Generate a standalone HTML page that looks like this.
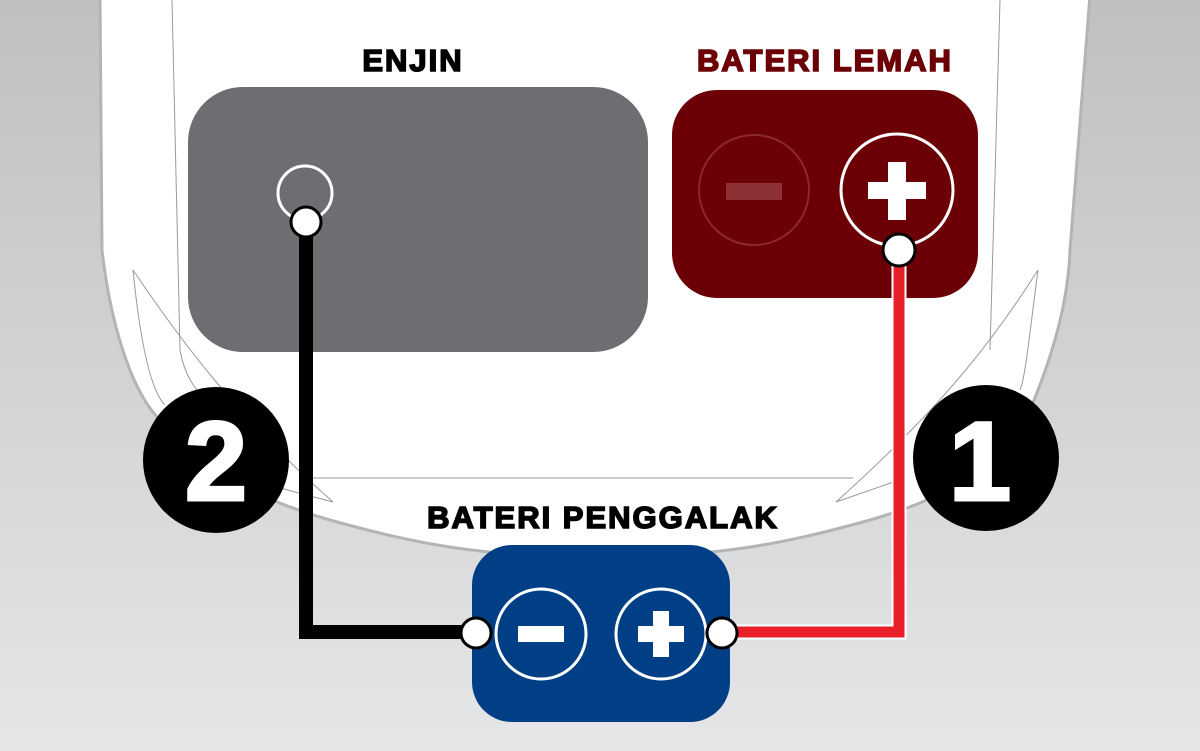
<!DOCTYPE html>
<html><head><style>html,body{margin:0;padding:0}svg{display:block}</style></head><body>
<svg width="1200" height="751" viewBox="0 0 1200 751" xmlns="http://www.w3.org/2000/svg">
<defs><linearGradient id="bg" x1="0" y1="0" x2="0" y2="1"><stop offset="0" stop-color="#bfc0c2"/><stop offset="1" stop-color="#e5e6e8"/></linearGradient></defs>
<rect width="1200" height="751" fill="url(#bg)"/>
<path d="M100,-5 L102,250 C110,320 130,390 160,420 C200,470 260,500 330,520 C420,545 480,556 600,558 C720,556 780,545 870,520 C940,500 1000,470 1030,410 C1055,350 1068,300 1070,250 L1090,-5 Z" fill="#fff" stroke="#b3b4b6" stroke-width="3"/>
<g fill="none" stroke="#999" stroke-width="1">
<path d="M172,0 L180,350 C185,380 200,400 230,415"/>
<path d="M133,270 C140,340 150,390 165,405"/>
<path d="M133,270 C180,340 240,420 333,502 L280,488"/>
<path d="M313,478 L853,478"/>
<path d="M1000,0 L990,350"/>
<path d="M1038,270 C1000,330 950,400 836,502 L905,478"/>
<path d="M1038,270 C1030,330 1025,380 1020,390"/>
</g>
<rect x="188" y="87" width="460" height="265" rx="55" fill="#6d6e72"/>
<circle cx="305" cy="193" r="27" fill="none" stroke="#fff" stroke-width="3"/>
<rect x="672" y="90" width="306" height="208" rx="45" fill="#6b0006"/>
<circle cx="754" cy="190" r="55" fill="none" stroke="#8a2a2e" stroke-width="2"/>
<rect x="726" y="183" width="56" height="17" fill="#8c3236"/>
<circle cx="897" cy="190" r="56" fill="none" stroke="#fff" stroke-width="3"/>
<rect x="868" y="182" width="58" height="17" fill="#fff"/><rect x="888" y="162" width="18" height="58" fill="#fff"/>
<g font-family="Liberation Sans, sans-serif" font-weight="bold" font-size="31" text-anchor="middle" stroke-width="1.6" letter-spacing="2">
<text x="413" y="71" fill="#000" stroke="#000">ENJIN</text>
<text x="825" y="71" fill="#6b0006" stroke="#6b0006">BATERI LEMAH</text>
<text x="603" y="528" fill="#000" stroke="#000">BATERI PENGGALAK</text>
</g>
<rect x="472" y="545" width="258" height="177" rx="40" fill="#003f85"/>
<circle cx="541" cy="634" r="45" fill="none" stroke="#fff" stroke-width="3"/>
<rect x="518" y="626" width="46" height="16" fill="#fff"/>
<circle cx="661" cy="634" r="45" fill="none" stroke="#fff" stroke-width="3"/>
<rect x="638" y="626" width="46" height="16" fill="#fff"/><rect x="653" y="611" width="16" height="46" fill="#fff"/>
<path d="M306,222 L306,632 L476,632" fill="none" stroke="#000" stroke-width="14"/>
<path d="M899,250 L899,632 L722,632" fill="none" stroke="#fff" stroke-width="15"/>
<path d="M899,250 L899,632 L722,632" fill="none" stroke="#e8202a" stroke-width="11"/>
<circle cx="306" cy="222" r="15" fill="#fff" stroke="#000" stroke-width="3"/>
<circle cx="899" cy="250" r="16" fill="#fff" stroke="#000" stroke-width="3"/>
<circle cx="476" cy="633" r="15" fill="#fff" stroke="#000" stroke-width="3"/>
<circle cx="722" cy="633" r="15" fill="#fff" stroke="#000" stroke-width="3"/>
<circle cx="216" cy="460" r="73" fill="#000"/>
<text x="216" y="500" font-family="Liberation Sans, sans-serif" font-weight="bold" font-size="112" text-anchor="middle" fill="#fff" stroke="#fff" stroke-width="3">2</text>
<circle cx="986" cy="458" r="73" fill="#000"/>
<text x="980" y="500" font-family="Liberation Sans, sans-serif" font-weight="bold" font-size="112" text-anchor="middle" fill="#fff" stroke="#fff" stroke-width="3">1</text>
</svg>
</body></html>
